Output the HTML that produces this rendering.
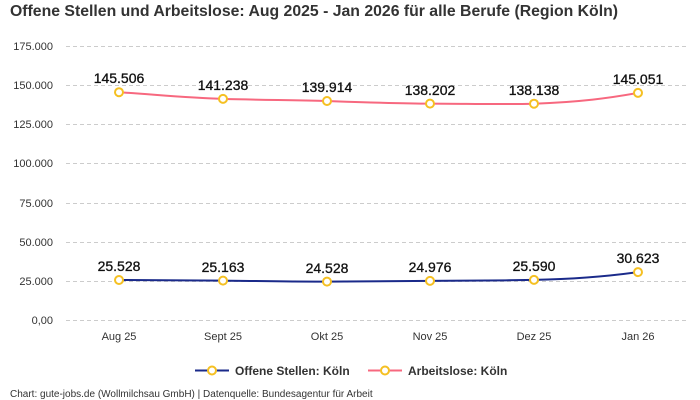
<!DOCTYPE html>
<html><head><meta charset="utf-8"><style>
body{margin:0;background:#fff;}
svg{display:block;font-family:"Liberation Sans",sans-serif;}
</style></head><body>
<svg width="700" height="400" viewBox="0 0 700 400">
<text x="10" y="16" font-size="15.8" font-weight="bold" fill="#333">Offene Stellen und Arbeitslose: Aug 2025 - Jan 2026 für alle Berufe (Region Köln)</text>
<g stroke="#ccc" stroke-dasharray="4,3" stroke-width="1">
<line x1="66" x2="688" y1="46.5" y2="46.5"/><line x1="66" x2="688" y1="85.5" y2="85.5"/>
<line x1="66" x2="688" y1="124.5" y2="124.5"/><line x1="66" x2="688" y1="163.5" y2="163.5"/>
<line x1="66" x2="688" y1="203.5" y2="203.5"/><line x1="66" x2="688" y1="242.5" y2="242.5"/>
<line x1="66" x2="688" y1="281.5" y2="281.5"/><line x1="66" x2="688" y1="320.5" y2="320.5"/>
</g>
<g font-size="11" fill="#333" text-anchor="end">
<text x="53" y="50">175.000</text><text x="53" y="89">150.000</text><text x="53" y="128">125.000</text>
<text x="53" y="167">100.000</text><text x="53" y="207">75.000</text><text x="53" y="246">50.000</text>
<text x="53" y="285">25.000</text><text x="53" y="324">0,00</text>
</g>
<g font-size="11" fill="#333" text-anchor="middle">
<text x="119" y="340">Aug 25</text><text x="223" y="340">Sept 25</text><text x="327" y="340">Okt 25</text>
<text x="430" y="340">Nov 25</text><text x="534" y="340">Dez 25</text><text x="638" y="340">Jan 26</text>
</g>
<path d="M119,92.2 C160,95 190,98 223,98.9 C260,100 290,100 327,101 C370,102.5 400,103.6 430,103.6 C470,103.7 500,104.5 534,103.7 C580,102 610,98 638,92.9" fill="none" stroke="#f7687f" stroke-width="2"/>
<path d="M119,280 C160,280.3 190,280.4 223,280.6 C260,281 290,281.7 327,281.6 C370,281.4 400,281 430,280.9 C470,280.7 500,280.5 534,279.9 C580,279 610,276 638,272.1" fill="none" stroke="#1a2a8a" stroke-width="2"/>
<g fill="#fff" stroke="#f5c022" stroke-width="2">
<circle cx="119" cy="92.2" r="4"/><circle cx="223" cy="98.9" r="4"/><circle cx="327" cy="101" r="4"/>
<circle cx="430" cy="103.6" r="4"/><circle cx="534" cy="103.7" r="4"/><circle cx="638" cy="92.9" r="4"/>
<circle cx="119" cy="280" r="4"/><circle cx="223" cy="280.6" r="4"/><circle cx="327" cy="281.6" r="4"/>
<circle cx="430" cy="280.9" r="4"/><circle cx="534" cy="279.9" r="4"/><circle cx="638" cy="272.1" r="4"/>
</g>
<g font-size="14" fill="#111" text-anchor="middle" stroke="#111" stroke-width="0.3">
<text x="119" y="83">145.506</text><text x="223" y="90">141.238</text><text x="327" y="92">139.914</text>
<text x="430" y="95">138.202</text><text x="534" y="95">138.138</text><text x="638" y="84">145.051</text>
<text x="119" y="271">25.528</text><text x="223" y="272">25.163</text><text x="327" y="273">24.528</text>
<text x="430" y="272">24.976</text><text x="534" y="271">25.590</text><text x="638" y="263">30.623</text>
</g>
<line x1="195" x2="229" y1="370.5" y2="370.5" stroke="#1a2a8a" stroke-width="2"/>
<circle cx="212" cy="370.5" r="4" fill="#fff" stroke="#f5c022" stroke-width="2"/>
<text x="235" y="375" font-size="12" font-weight="bold" fill="#333">Offene Stellen: Köln</text>
<line x1="368" x2="402" y1="370.5" y2="370.5" stroke="#f7687f" stroke-width="2"/>
<circle cx="385" cy="370.5" r="4" fill="#fff" stroke="#f5c022" stroke-width="2"/>
<text x="408" y="375" font-size="12" font-weight="bold" fill="#333">Arbeitslose: Köln</text>
<text x="10" y="397" font-size="10" fill="#333">Chart: gute-jobs.de (Wollmilchsau GmbH) | Datenquelle: Bundesagentur für Arbeit</text>
</svg>
</body></html>
